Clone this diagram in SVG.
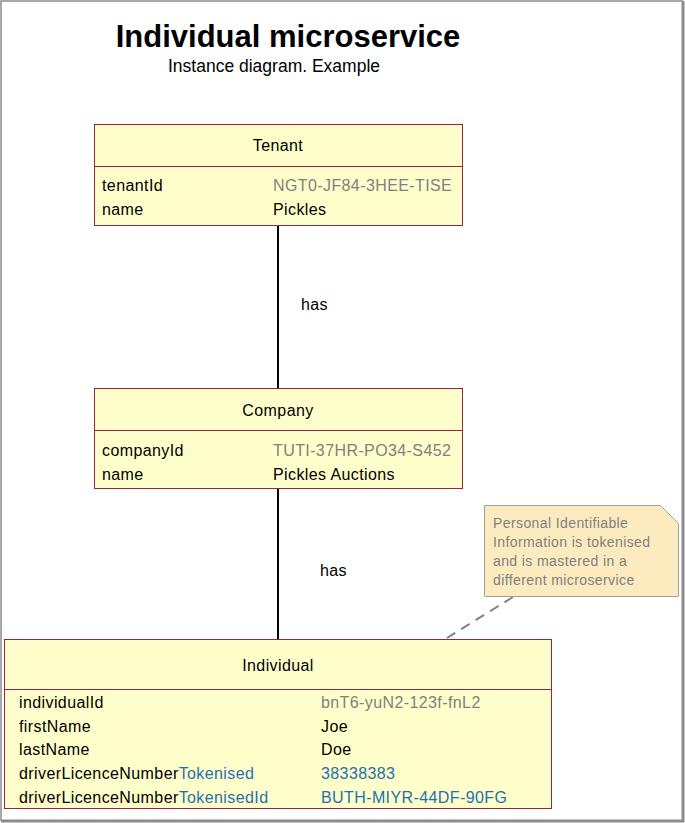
<svg xmlns="http://www.w3.org/2000/svg" width="685" height="823" viewBox="0 0 685 823">
<style>
  text { font-family: "Liberation Sans", Arial, sans-serif; }
  .box { fill: #FFFFCC; stroke: #9B2343; stroke-width: 1; }
  .div { stroke: #9B2343; stroke-width: 1; }
  .hdr { font-size: 16px; fill: #000; text-anchor: middle; letter-spacing: 0.4px; }
  .lbl { font-size: 16px; fill: #000; letter-spacing: 0.4px; }
  .gray { fill: #808080; }
  .blue { fill: #1F6FAF; }
  .conn { stroke: #000; stroke-width: 2; fill: none; }
  .has { font-size: 16px; fill: #000; letter-spacing: 0.4px; }
  .note { fill: #FDEBC0; stroke: #A0A0A0; stroke-width: 1; }
  .ntxt { font-size: 14px; fill: #808080; letter-spacing: 0.4px; }
</style>
<rect x="0" y="0" width="685" height="823" fill="#FFFFFF"/>
<path d="M1,821 L1,1 L683,1" fill="none" stroke="#8C8C8C" stroke-width="1.5"/>
<path d="M683,1 L683,821 L1,821" fill="none" stroke="#8C8C8C" stroke-width="3"/>

<g id="title">
  <text x="288" y="47" font-size="31" font-weight="bold" text-anchor="middle" fill="#000">Individual microservice</text>
  <text x="274" y="72" font-size="17.5" text-anchor="middle" fill="#000">Instance diagram. Example</text>
</g>

<g id="connectors">
  <line class="conn" x1="278" y1="226" x2="278" y2="388"/>
  <text class="has" x="301" y="310">has</text>
  <line class="conn" x1="278" y1="489" x2="278" y2="639"/>
  <text class="has" x="320" y="576">has</text>
  <line x1="513" y1="597" x2="447" y2="638" stroke="#808080" stroke-width="2" stroke-dasharray="10,7"/>
</g>

<g id="tenant">
  <rect class="box" x="94.5" y="124.5" width="368" height="101"/>
  <line class="div" x1="94.5" y1="166.5" x2="462.5" y2="166.5"/>
  <text class="hdr" x="278" y="151">Tenant</text>
  <text class="lbl" x="102" y="191">tenantId</text>
  <text class="lbl gray" x="273" y="191">NGT0-JF84-3HEE-TISE</text>
  <text class="lbl" x="102" y="215">name</text>
  <text class="lbl" x="273" y="215">Pickles</text>
</g>

<g id="company">
  <rect class="box" x="94.5" y="388.5" width="368" height="100"/>
  <line class="div" x1="94.5" y1="430.5" x2="462.5" y2="430.5"/>
  <text class="hdr" x="278" y="416">Company</text>
  <text class="lbl" x="102" y="456">companyId</text>
  <text class="lbl gray" x="273" y="456">TUTI-37HR-PO34-S452</text>
  <text class="lbl" x="102" y="480">name</text>
  <text class="lbl" x="273" y="480">Pickles Auctions</text>
</g>

<g id="individual">
  <rect class="box" x="4.5" y="639.5" width="547" height="169"/>
  <line class="div" x1="4.5" y1="689.5" x2="551.5" y2="689.5"/>
  <text class="hdr" x="278" y="671">Individual</text>
  <text class="lbl" x="19" y="708">individualId</text>
  <text class="lbl gray" x="321" y="708">bnT6-yuN2-123f-fnL2</text>
  <text class="lbl" x="19" y="732">firstName</text>
  <text class="lbl" x="321" y="732">Joe</text>
  <text class="lbl" x="19" y="755">lastName</text>
  <text class="lbl" x="321" y="755">Doe</text>
  <text class="lbl" x="19" y="779">driverLicenceNumber<tspan class="blue">Tokenised</tspan></text>
  <text class="lbl blue" x="321" y="779">38338383</text>
  <text class="lbl" x="19" y="803">driverLicenceNumber<tspan class="blue">TokenisedId</tspan></text>
  <text class="lbl blue" x="321" y="803">BUTH-MIYR-44DF-90FG</text>
</g>

<g id="note">
  <path class="note" d="M484.5,505.5 L660.5,505.5 L678.5,523.5 L678.5,596.5 L484.5,596.5 Z"/>
  <text class="ntxt" x="493" y="528">Personal Identifiable</text>
  <text class="ntxt" x="493" y="547">Information is tokenised</text>
  <text class="ntxt" x="493" y="566">and is mastered in a</text>
  <text class="ntxt" x="493" y="585">different microservice</text>
</g>
</svg>
